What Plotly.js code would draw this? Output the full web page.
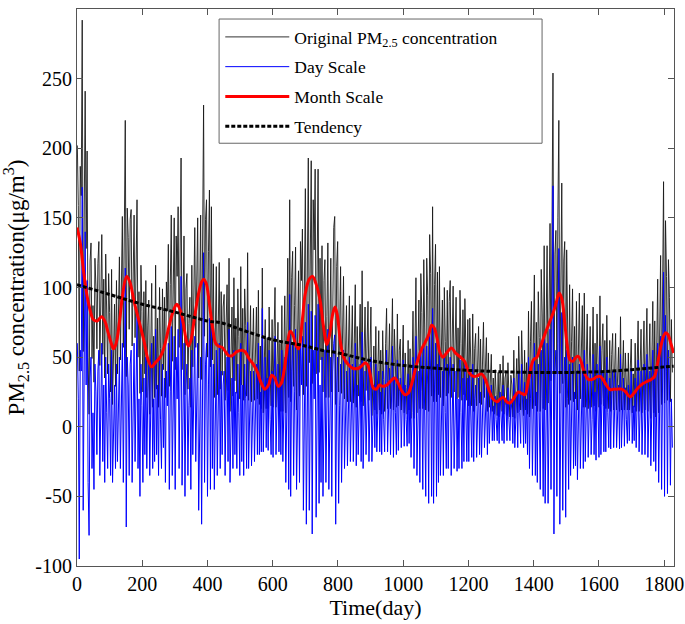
<!DOCTYPE html>
<html><head><meta charset="utf-8">
<script src="https://cdn.plot.ly/plotly-3.0.1.min.js"></script>
<style>html,body{margin:0;padding:0;background:#fff}</style>
</head><body><div id="chart" style="width:685px;height:624px"></div>
<script>
// Daily series read every 3 days (day 1, 4, 7, ... 1825)
const sampleStartDay = 1;
const sampleStepDays = 3;

const originalValues = [
202,159,40,187,166,292,54,203,241,128,
198,50,9,119,132,49,87,32,121,101,
56,117,133,44,94,138,52,106,35,124,
81,38,110,82,25,113,16,62,88,29,
105,38,82,122,48,120,151,57,122,220,
36,157,136,70,149,156,58,105,152,64,
126,163,50,97,24,116,83,25,97,38,
105,21,73,91,9,53,103,14,65,21,
116,27,78,14,100,56,22,99,41,93,
21,104,83,131,29,102,152,47,114,150,
41,137,108,158,57,126,193,41,105,137,
23,99,110,27,74,93,14,116,43,106,
143,57,121,150,35,119,152,34,145,231,
65,149,163,50,126,170,43,158,48,117,
21,87,115,23,68,118,27,97,37,86,
95,19,73,102,26,121,11,66,86,22,
107,33,78,24,99,65,20,115,30,85,
19,99,73,22,125,19,63,87,18,70,
85,19,52,86,20,98,16,58,13,114,
10,47,77,13,64,13,86,38,15,77,
14,66,100,14,47,75,11,60,11,87,
11,60,94,10,91,121,21,163,18,107,
126,29,87,129,12,76,112,22,133,105,
142,23,130,171,29,132,193,46,152,191,
31,163,127,185,38,141,185,39,121,48,
130,25,105,120,21,79,132,21,99,121,
25,119,143,151,16,115,133,25,90,115,
24,88,108,20,58,87,18,70,94,18,
63,87,17,52,102,14,72,22,57,88,
18,112,15,65,86,26,55,90,19,66,
86,8,40,58,12,72,9,48,69,12,
55,9,69,34,11,60,85,13,51,74,
13,48,92,12,70,45,14,81,15,55,
63,12,46,73,10,53,28,9,62,12,
56,6,40,83,6,59,107,10,63,91,
13,110,82,13,120,71,12,121,94,11,
138,110,22,158,18,102,131,18,111,23,
115,21,73,91,15,100,61,22,98,24,
90,105,21,71,101,25,79,93,20,71,
21,98,60,19,84,23,92,51,19,77,
15,78,52,15,81,11,56,67,15,47,
72,17,63,16,43,75,21,55,64,11,
53,14,34,52,11,35,9,41,23,8,
39,7,45,25,11,51,9,35,39,8,
46,22,7,37,30,7,55,6,33,49,
10,65,35,12,69,29,8,55,12,46,
9,83,7,61,90,13,63,109,15,75,
11,97,64,11,113,81,13,130,12,104,
130,17,104,146,33,145,254,5,124,141,
38,150,220,24,135,175,31,119,133,14,
127,86,16,102,19,61,99,18,72,20,
90,12,66,96,20,69,87,14,96,14,
47,81,13,54,72,14,39,86,15,60,
11,81,51,14,94,16,55,74,15,62,
13,80,39,13,62,11,52,67,12,32,
67,12,47,57,11,79,12,37,62,12,
53,30,12,53,12,42,63,10,38,14,
60,11,37,76,11,54,70,10,46,76,
12,62,85,11,44,74,6,60,90,10,
76,7,57,106,10,99,123,16,93,176,
17,148,108,19,120,93,18,77,39
];

const dayScaleValues = [
60,20,-95,55,40,172,-60,95,140,30,
105,-40,-78,35,50,-30,10,-45,45,25,
-20,40,55,-35,15,60,-25,30,-40,50,
10,-30,45,20,-35,55,-40,5,30,-30,
45,-25,15,50,-30,35,60,-40,20,114,
-72,50,30,-35,45,55,-40,10,60,-25,
40,80,-30,20,-50,45,15,-40,35,-20,
50,-30,25,45,-35,10,60,-30,20,-25,
70,-20,30,-35,50,5,-30,45,-15,35,
-40,40,15,60,-45,25,72,-35,30,65,
-45,50,20,70,-30,40,108,-42,25,60,
-50,30,45,-35,15,35,-45,55,-20,40,
65,-25,35,60,-60,20,50,-70,40,125,
-40,45,60,-50,30,78,-45,75,-30,45,
-45,25,55,-35,10,60,-30,40,-20,30,
40,-35,20,50,-25,70,-40,15,35,-30,
55,-20,25,-30,45,10,-35,60,-25,30,
-35,45,20,-30,75,-30,15,40,-28,25,
40,-25,10,45,-20,60,-20,25,-18,85,
-18,20,50,-15,35,-17,55,5,-20,40,
-22,30,65,-20,15,45,-18,30,-20,55,
-25,20,50,-40,35,60,-45,95,-50,40,
60,-35,25,70,-45,20,55,-40,65,30,
65,-60,40,75,-70,30,88,-60,45,83,
-77,55,20,80,-65,40,88,-55,30,-40,
50,-50,35,55,-40,20,70,-45,30,50,
-50,40,60,66,-70,30,50,-55,15,45,
-40,30,55,-30,10,40,-28,25,50,-25,
20,45,-25,10,60,-28,30,-20,15,45,
-25,68,-30,20,40,-20,10,45,-25,25,
50,-25,10,30,-15,45,-18,20,40,-18,
25,-20,40,5,-18,30,55,-18,20,42,
-20,15,58,-22,35,10,-20,48,-17,25,
35,-15,20,48,-14,30,5,-14,38,-12,
30,-22,10,50,-30,20,65,-35,15,40,
-40,55,25,-45,60,10,-50,58,30,-55,
70,40,-50,85,-55,30,60,-50,45,-40,
55,-35,20,40,-35,50,10,-30,45,-30,
35,50,-35,15,45,-30,25,40,-32,20,
-30,48,10,-30,35,-25,45,5,-25,35,
-25,40,15,-22,45,-25,20,30,-22,10,
35,-20,25,-22,5,38,-15,20,30,-20,
25,-12,10,30,-10,15,-10,22,5,-10,
20,-12,25,5,-10,30,-12,15,20,-10,
28,5,-10,20,12,-12,35,-15,10,25,
-15,40,10,-12,45,5,-15,32,-12,20,
-20,50,-30,20,45,-35,15,60,-35,25,
-40,45,10,-45,55,20,-50,65,-55,35,
60,-55,30,70,-45,65,173,-77,40,55,
-50,60,128,-70,40,82,-60,30,50,-65,
55,20,-45,45,-35,10,50,-30,25,-28,
40,-38,15,45,-30,20,40,-30,55,-25,
10,45,-22,20,38,-20,5,52,-20,25,
-24,45,15,-22,58,-20,20,40,-18,30,
-18,50,10,-15,35,-16,25,40,-15,5,
40,-15,20,30,-16,52,-15,10,35,-14,
28,5,-12,30,-10,20,42,-12,15,-10,
35,-15,10,48,-18,25,40,-20,15,45,
-20,30,52,-22,10,40,-28,25,55,-25,
40,-32,15,60,-40,45,65,-45,30,111,
-50,80,40,-48,55,30,-42,20,-15
];

const monthDays = [0,10,20,30,40,50,62,75,85,95,105,112,120,130,140,152,162,175,190,205,218,229,240,255,268,282,295,306,316,326,336,342,350,360,372,382,388,396,405,415,425,433,445,455,465,475,490,505,515,527,540,552,562,576,587,597,606,617,626,636,645,653,662,670,679,690,700,712,722,732,745,755,766,775,784,791,798,808,817,830,845,863,874,884,892,900,908,918,927,937,950,962,974,985,995,1005,1015,1025,1040,1055,1068,1078,1087,1095,1105,1113,1122,1133,1148,1160,1170,1178,1188,1198,1208,1218,1230,1240,1250,1262,1275,1288,1297,1307,1317,1327,1340,1353,1363,1373,1385,1399,1410,1420,1432,1440,1450,1460,1470,1478,1486,1495,1503,1511,1520,1530,1537,1545,1555,1568,1580,1595,1605,1615,1625,1634,1645,1655,1670,1682,1695,1707,1720,1735,1747,1760,1770,1780,1790,1798,1805,1812,1820,1829];
const monthValues = [143,132,112,95,84,77,76,79,76,68,60,56,60,75,95,108,104,90,76,62,48,43,46,50,58,72,83,88,84,74,61,58,63,78,95,104,106,103,90,72,60,58,57,54,51,51,54,55,54,49,45,40,33,27,30,37,35,29,31,42,58,68.5,66,59,56,75,96,106,108,103,91,73,59,67,81,86,80,60,50,45,42,42,44,46,44,36,28,27,30,29,30,33,35,31,26,23,24,30,44,55,61,66,73,71,62,53,50,53,56.6,53,51,49.5,47,41,37,36,37,38,35,27,20,18,20,21,18,17,21,25,24,23,35,48,50,57,65,70,76,82,90,96,92,75,58,48,47,50,50.5,47,39,34,34,36,36,33,29,26.6,27,27,27,25,21.5,24,28,31,32.5,34,36,46,58,65,67.5,66,60,53];

const tendencyDays = [0,100,200,290,400,444,500,600,700,750,800,900,1000,1100,1200,1300,1400,1500,1600,1700,1800,1829];
const tendencyValues = [102,95,88,83,76,74.5,70,62.5,58,55,53,47.5,44,42,40.5,39.5,39,39,39.5,41,43,43.5];

const xTickValues = [0,200,400,600,800,1000,1200,1400,1600,1800];
const yTickValues = [-100,-50,0,50,100,150,200,250,300];

const sampleDays = originalValues.map((_, i) => sampleStartDay + i * sampleStepDays);

const serif = 'Liberation Serif, Times New Roman, serif';

const traces = [
  {x: sampleDays, y: originalValues, type: 'scatter', mode: 'lines', legendgroup: 'a',
   name: 'Original PM<sub>2.5</sub> concentration',
   line: {color: '#1a1a1a', width: 0.9}},
  {x: sampleDays, y: dayScaleValues, type: 'scatter', mode: 'lines', legendgroup: 'b',
   name: 'Day Scale', line: {color: '#0000ff', width: 1}},
  {x: monthDays, y: monthValues, type: 'scatter', mode: 'lines', legendgroup: 'c',
   name: 'Month Scale', line: {color: '#ff0000', width: 3, shape: 'spline', smoothing: 1}},
  {x: tendencyDays, y: tendencyValues, type: 'scatter', mode: 'lines', legendgroup: 'd',
   name: 'Tendency', line: {color: '#000000', width: 3, dash: '4px,2px', shape: 'spline'}}
];

const axisCommon = {
  showgrid: false, zeroline: false, showline: true, linecolor: '#555', linewidth: 1,
  mirror: 'ticks', ticks: 'inside', ticklen: 6, tickcolor: '#555', tickwidth: 1,
  tickfont: {family: serif, size: 20, color: '#000'}
};

const layout = {
  width: 685, height: 624,
  margin: {l: 77, r: 11, t: 9, b: 58},
  paper_bgcolor: '#fff', plot_bgcolor: '#fff',
  showlegend: true,
  legend: {
    x: 0.24, y: 0.982, xanchor: 'left', yanchor: 'top',
    bgcolor: 'rgba(0,0,0,0)', borderwidth: 0,
    font: {family: serif, size: 17.5, color: '#000'},
    itemwidth: 64, tracegroupgap: 4
  },
  shapes: [{
    type: 'rect', xref: 'paper', yref: 'paper', layer: 'above',
    x0: 0.238, x1: 0.779, y0: 0.759, y1: 0.982,
    fillcolor: '#ffffff', line: {color: '#666', width: 1}
  }],
  xaxis: Object.assign({}, axisCommon, {
    range: [0, 1830], tickvals: xTickValues, ticktext: xTickValues.map(String),
    title: {text: 'Time(day)', font: {family: serif, size: 22, color: '#000'}, standoff: 2}
  }),
  yaxis: Object.assign({}, axisCommon, {
    range: [-100, 300], tickvals: yTickValues, ticktext: yTickValues.map(String),
    title: {text: 'PM<sub>2.5</sub> concentration(μg/m<sup>3</sup>)', font: {family: serif, size: 23, color: '#000'}, standoff: 4}
  })
};

Plotly.newPlot('chart', traces, layout, {displayModeBar: false, staticPlot: true});
</script>
</body></html>
